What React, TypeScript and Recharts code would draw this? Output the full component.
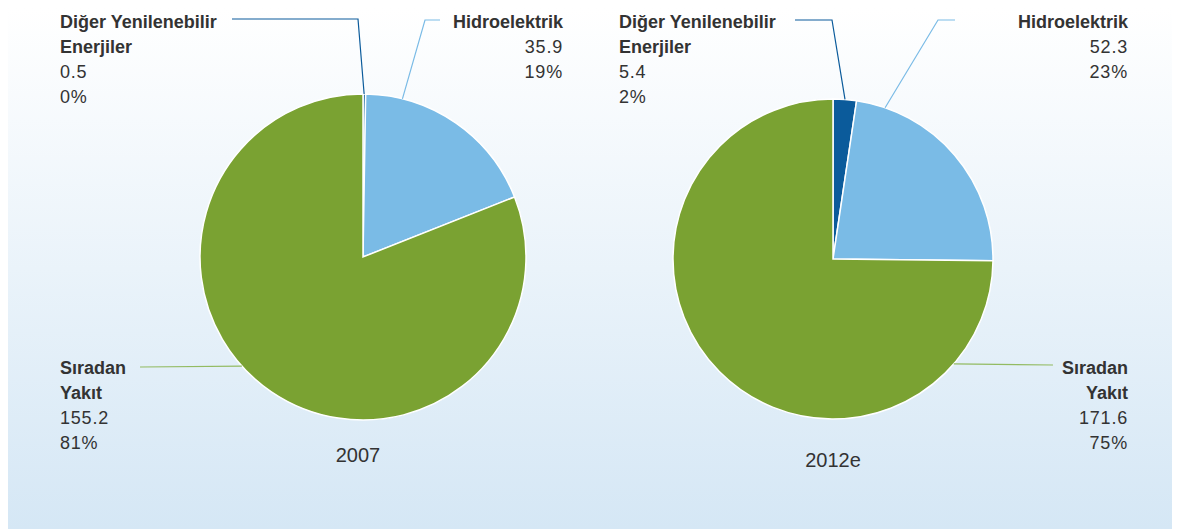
import React from 'react';
import { PieChart, Pie, Cell } from 'recharts';

// categories
const categories = ['Diğer Yenilenebilir Enerjiler', 'Hidroelektrik', 'Sıradan Yakıt'];
const categoryLines = [['Diğer Yenilenebilir', 'Enerjiler'], ['Hidroelektrik'], ['Sıradan', 'Yakıt']];
const colors = ['#0b5b9b', '#7abbe6', '#7aa232'];
const lineColors = ['#0b5b9b', '#7abbe6', '#93bb62'];

// series values
const values2007 = [0.5, 35.9, 155.2];
const values2012 = [5.4, 52.3, 171.6];
const years = ['2007', '2012e'];

const data2007 = categories.map((name, i) => ({ name, value: values2007[i] }));
const data2012 = categories.map((name, i) => ({ name, value: values2012[i] }));

const FONT = '"Liberation Sans", Arial, sans-serif';
const TEXT = '#333333';
const RAD = Math.PI / 180;

interface LabelLayout {
  x: number;
  y: number;
  anchor: 'start' | 'end';
  tail: [number, number];
  elbow: [number, number];
  angle: number;
}

const layout2007: LabelLayout[] = [
  { x: 52, y: 20, anchor: 'start', tail: [224, 11], elbow: [350, 11], angle: 89.6 },
  { x: 555, y: 20, anchor: 'end', tail: [432, 12], elbow: [417, 12], angle: 76 },
  { x: 52, y: 366, anchor: 'start', tail: [132, 359], elbow: [132, 359], angle: 222 },
];

const layout2012: LabelLayout[] = [
  { x: 611, y: 20, anchor: 'start', tail: [787, 12], elbow: [824, 12], angle: 85.7 },
  { x: 1120, y: 20, anchor: 'end', tail: [947, 12], elbow: [930, 12], angle: 71 },
  { x: 1120, y: 366, anchor: 'end', tail: [1045, 357], elbow: [1045, 357], angle: 319 },
];

const makeLabel = (layout: LabelLayout[]) => (props: any) => {
  const { cx, cy, outerRadius, index, value, percent } = props;
  const l = layout[index];
  const ex = cx + outerRadius * Math.cos(l.angle * RAD);
  const ey = cy - outerRadius * Math.sin(l.angle * RAD);
  const names = categoryLines[index];
  const rows = [
    ...names.map((t) => ({ t, bold: true })),
    { t: String(value), bold: false },
    { t: `${Math.round(percent * 100)}%`, bold: false },
  ];
  return (
    <g key={`lbl-${index}`}>
      <polyline
        points={`${l.tail[0]},${l.tail[1]} ${l.elbow[0]},${l.elbow[1]} ${ex},${ey}`}
        fill="none"
        stroke={lineColors[index]}
        strokeWidth={1.2}
      />
      {rows.map((r, i) => (
        <text
          key={i}
          x={l.x}
          y={l.y + i * 25}
          textAnchor={l.anchor}
          fontFamily={FONT}
          fontSize={18}
          fontWeight={r.bold ? 700 : 400}
          letterSpacing={r.bold ? 0 : 0.8}
          fill={TEXT}
        >
          {r.t}
        </text>
      ))}
    </g>
  );
};

export default function App() {
  return (
    <div
      style={{
        width: 1172,
        height: 521,
        position: 'relative',
        background: 'linear-gradient(to bottom, #ffffff 0%, #d5e7f5 100%)',
      }}
    >
      <PieChart width={1172} height={521}>
        <Pie
          data={data2007}
          dataKey="value"
          nameKey="name"
          cx={350}
          cy={244}
          outerRadius={163}
          startAngle={90}
          endAngle={-270}
          stroke="#ffffff"
          strokeWidth={1.5}
          label={makeLabel(layout2007)}
          labelLine={false}
          isAnimationActive={false}
        >
          {data2007.map((d, i) => (
            <Cell key={d.name} fill={colors[i]} />
          ))}
        </Pie>
        <Pie
          data={data2012}
          dataKey="value"
          nameKey="name"
          cx={820}
          cy={246}
          outerRadius={160}
          startAngle={90}
          endAngle={-270}
          stroke="#ffffff"
          strokeWidth={1.5}
          label={makeLabel(layout2012)}
          labelLine={false}
          isAnimationActive={false}
        >
          {data2012.map((d, i) => (
            <Cell key={d.name} fill={colors[i]} />
          ))}
        </Pie>
        <text x={350} y={454} textAnchor="middle" fontFamily={FONT} fontSize={20} fill={TEXT}>
          {years[0]}
        </text>
        <text x={825} y={459} textAnchor="middle" fontFamily={FONT} fontSize={20} fill={TEXT}>
          {years[1]}
        </text>
      </PieChart>
    </div>
  );
}
